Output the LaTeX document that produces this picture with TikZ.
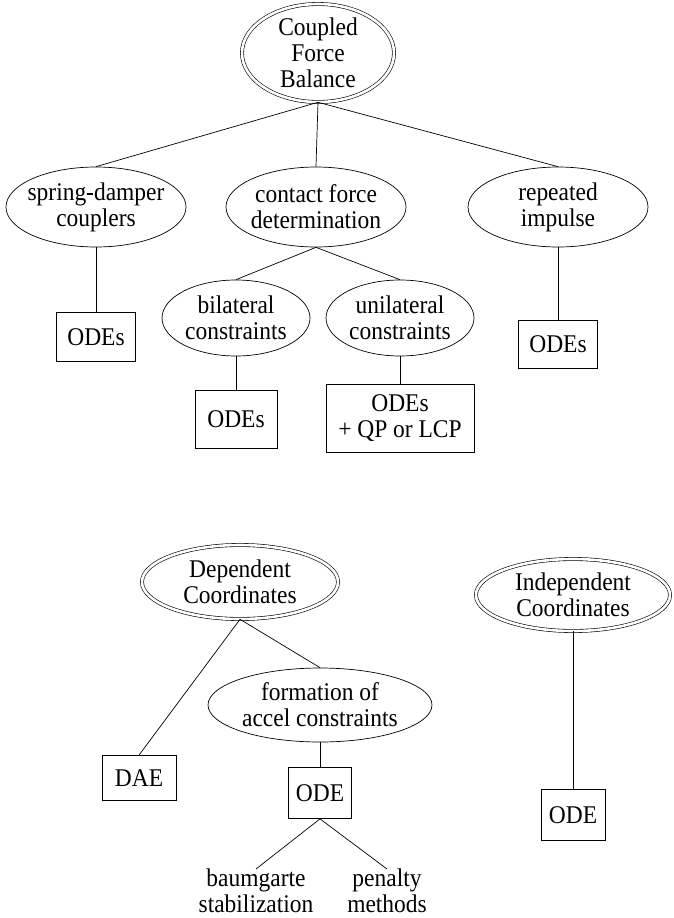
\documentclass[tikz,border=0pt]{standalone}
\usepackage{fontspec}
\setmainfont[FakeStretch=0.92]{Liberation Serif}
\usetikzlibrary{shapes.geometric}
\begin{document}
\begin{tikzpicture}[x=1pt,y=-1pt,
  every node/.style={font=\fontsize{25.5}{26}\selectfont, align=center, inner sep=0pt},
  ell/.style={ellipse, draw, line width=0.7pt, inner sep=-10pt},
  dell/.style={ellipse, draw, line width=0.6pt, double, double distance=2.6pt, inner sep=-10pt},
  bx/.style={rectangle, draw, line width=0.7pt},
  conn/.style={line width=0.7pt}]
\useasboundingbox (0,0) rectangle (673,918);

% top tree
\node[dell, minimum width=152pt, minimum height=98pt] (cfb) at (318,53) {Coupled\\Force\\Balance};
\node[ell, minimum width=180pt, minimum height=80pt] (sd) at (96,207) {spring-damper\\couplers};
\node[ell, minimum width=180pt, minimum height=80pt] (cf) at (316,207) {contact force\\determination};
\node[ell, minimum width=180pt, minimum height=80pt] (ri) at (558,207) {repeated\\impulse};
\node[ell, minimum width=148pt, minimum height=76pt] (bl) at (236,318) {bilateral\\constraints};
\node[ell, minimum width=148pt, minimum height=76pt] (ul) at (400,318) {unilateral\\constraints};
\node[bx, minimum width=79pt, minimum height=49pt] (sdo) at (96,337) {ODEs};
\node[bx, minimum width=82pt, minimum height=58pt] (blo) at (236,419) {ODEs};
\node[bx, minimum width=148pt, minimum height=68pt] (ulo) at (400,418) {ODEs\\+ QP or LCP};
\node[bx, minimum width=79pt, minimum height=48pt] (rio) at (558,344) {ODEs};

% bottom left tree
\node[dell, minimum width=196pt, minimum height=74pt] (dc) at (240,582) {Dependent\\Coordinates};
\node[ell, minimum width=224pt, minimum height=74pt] (fac) at (320,705) {formation of\\accel constraints};
\node[bx, minimum width=74pt, minimum height=45pt] (dae) at (139,778) {DAE};
\node[bx, minimum width=63pt, minimum height=51pt] (ode) at (320,793) {ODE};
\node[anchor=north] (baum) at (256,869) {baumgarte\\stabilization};
\node[anchor=north] (pen) at (387,869) {penalty\\methods};

% bottom right tree
\node[dell, minimum width=194pt, minimum height=72pt] (ic) at (573,595) {Independent\\Coordinates};
\node[bx, minimum width=64pt, minimum height=51pt] (ode2) at (573,815) {ODE};

% connectors
\draw[conn] (cfb.south) -- (sd.north);
\draw[conn] (cfb.south) -- (cf.north);
\draw[conn] (cfb.south) -- (ri.north);
\draw[conn] (cf.south) -- (bl.north);
\draw[conn] (cf.south) -- (ul.north);
\draw[conn] (sd.south) -- (sdo.north);
\draw[conn] (bl.south) -- (blo.north);
\draw[conn] (ul.south) -- (ulo.north);
\draw[conn] (ri.south) -- (rio.north);
\draw[conn] (dc.south) -- (dae.north);
\draw[conn] (dc.south) -- (fac.north);
\draw[conn] (fac.south) -- (ode.north);
\draw[conn] (ode.south) -- (baum.north);
\draw[conn] (ode.south) -- (pen.north);
\draw[conn] (ic.south) -- (ode2.north);
\end{tikzpicture}
\end{document}
